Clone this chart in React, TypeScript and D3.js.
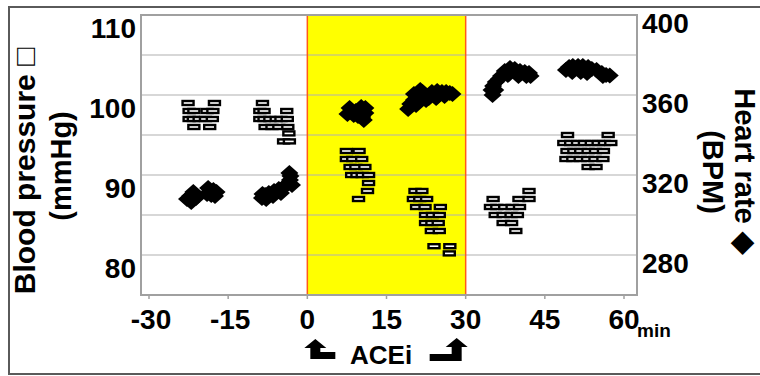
import React from "react";
import * as d3 from "d3";

// ---- data ----
const xTicks = [-30, -15, 0, 15, 30, 45, 60];
const bpTicks = [80, 90, 100, 110];
const hrTicks = [280, 320, 360, 400];
const gridValues = [80, 85, 90, 95, 100, 105];
const aceiStart = 0;
const aceiEnd = 30;

// Blood pressure (mmHg), open box markers
const bpTime = [
  -22.6, -17.6, -22.4, -21.5, -19.0, -17.9, -22.4, -21.6, -20.5, -19.3, -18.0, -21.5, -18.5,
  -8.5, -9.0, -8.2, -3.9, -9.0, -8.2, -7.1, -5.9, -5.0, -3.8, -8.0, -6.7, -5.4, -3.7, -3.5, -4.5, -3.4,
  7.4, 9.8, 7.4, 8.6, 10.3, 8.1, 9.2, 10.9, 8.4, 9.4, 10.4, 11.6, 11.6, 11.4, 9.7,
  20.4, 21.7, 20.1, 21.3, 22.6, 20.7, 22.3, 25.2, 22.4, 23.7, 25.0, 22.4, 23.6, 24.8, 23.5, 25.0, 24.0, 27.0, 26.9,
  42.0, 35.2, 40.1, 42.0, 34.7, 35.9, 37.4, 38.8, 40.2, 35.6, 37.1, 38.6, 39.8, 37.1, 38.7, 39.5,
  49.3, 57.0, 48.6, 49.9, 51.2, 52.5, 53.8, 55.1, 56.3, 57.5, 49.2, 50.5, 51.8, 53.2, 54.6, 56.1,
  49.0, 50.3, 51.7, 53.1, 54.5, 56.0, 53.2, 54.7,
];
const bpValue = [
  99, 99, 98, 98, 98, 98, 97, 97, 97, 97, 97, 96, 96,
  99, 98, 98, 98, 97, 97, 97, 97, 97, 97, 96, 96, 96, 96, 95.2, 94.2, 94.2,
  93, 93, 92, 92, 92, 91, 91, 91, 90, 90, 90, 90, 89, 88, 87,
  88, 88, 87, 87, 87, 86, 86, 86, 85, 85, 85, 84, 84, 84, 83, 83, 81.1, 81.1, 80.2,
  88, 87, 87, 87, 86, 86, 86, 86, 86, 85, 85, 85, 85, 84, 84, 83,
  95, 95, 94, 94, 94, 94, 94, 94, 94, 94, 93, 93, 93, 93, 93, 93,
  92, 92, 92, 92, 92, 92, 91, 91,
];

// Heart rate (BPM), filled diamond markers
const hrTime = [
  -22.8, -22.2, -21.5, -21.1, -22.0, -21.6, -19.0, -18.4, -17.8, -17.2, -18.2, -18.8, -17.5,
  -8.6, -8.5, -8.0, -7.3, -6.3, -5.4, -4.4, -3.8, -3.3, -3.2, -3.4, -7.8, -6.5, -5.0, -2.9,
  7.6, 8.3, 9.2, 10.2, 11.0, 11.0, 10.4, 10.7, 9.6, 8.0, 8.8, 10.0,
  19.1, 19.5, 20.2, 21.0, 21.4, 22.1, 23.0, 23.6, 24.6, 25.5, 26.3, 27.0, 27.5, 24.4, 20.6,
  20.5, 22.5, 24.5, 26.0, 21.8, 20.2,
  35.1, 34.9, 35.2, 35.7, 36.7, 37.4, 38.4, 39.3, 40.3, 41.2, 42.0, 42.3, 35.6,
  36.3, 38.0, 40.0, 41.5,
  49.0, 49.6, 50.3, 51.3, 52.2, 53.2, 53.9, 54.8, 55.8, 56.6, 57.3, 50.2, 51.8, 53.0, 56.0,
];
const hrValue = [
  308, 309.5, 310.5, 308.5, 306.5, 311.5, 310.5, 312, 312.5, 311.5, 310, 313.5, 309.5,
  308.5, 310.5, 310, 311, 312, 313, 314, 315.5, 317.5, 319.5, 321, 308, 309.5, 311, 315,
  350.5, 351.5, 352, 354, 353.5, 351, 349, 347.5, 349.5, 353.5, 350, 350.5,
  353, 355.5, 357.5, 359.5, 362.5, 360, 358.5, 361.5, 362, 361.5, 361.5, 361, 360.5, 358.5, 355,
  358, 357.5, 359, 359.5, 361.5, 360.5,
  360, 362.5, 364.5, 366.5, 369.5, 372, 373.5, 373, 372, 371.5, 371, 369.5, 362.5,
  368, 370, 369.5, 369.5,
  372.5, 374, 374.5, 374.5, 374.5, 374, 373, 372.5, 371, 370, 369.8, 371.5, 371.5, 371, 369.5,
];

// ---- layout ----
const W = 760;
const H = 376;
const plotLeft = 141;
const plotRight = 637;
const plotTop = 15;
const plotBottom = 295;
const FONT = "'Liberation Sans', Arial, Helvetica, sans-serif";

export default function App() {
  const x = d3.scaleLinear().domain([-30, 60]).range([149, 624]);
  const yL = d3.scaleLinear().domain([80, 110]).range([255, 15]);
  const yR = d3.scaleLinear().domain([280, 400]).range([255, 15]);

  const diamond = (cx: number, cy: number) => {
    const hw = 9, hh = 8;
    return `M${cx},${cy - hh}L${cx + hw},${cy}L${cx},${cy + hh}L${cx - hw},${cy}Z`;
  };

  const x0 = x(aceiStart);
  const x30 = x(aceiEnd);

  const leftArrow = (ox: number) =>
    `M${ox + 8},339 L${ox + 19},348 L${ox + 13},348 L${ox + 13},352 L${ox + 28},352 L${ox + 28},359 L${ox + 3},359 L${ox + 3},348 L${ox - 3},348 Z`;
  const rightArrow = (ox: number) =>
    `M${ox - 9},338 L${ox + 2},347 L${ox - 4},347 L${ox - 4},361 L${ox - 36},361 L${ox - 36},354 L${ox - 14},354 L${ox - 14},347 L${ox - 20},347 Z`;

  return (
    <svg
      width={W}
      height={H}
      style={{ position: "absolute", left: 0, top: 0, background: "#fff" }}
      fontFamily={FONT}
    >
      {/* outer frame */}
      <rect x={9} y={7} width={760} height={367} fill="#fff" stroke="#5a5a5a" strokeWidth={2} />

      {/* ACEi period */}
      <rect x={x0} y={plotTop} width={x30 - x0} height={plotBottom - plotTop} fill="#ffff00" />

      {/* gridlines */}
      {gridValues.map((v) => (
        <line key={v} x1={plotLeft} x2={plotRight} y1={yL(v)} y2={yL(v)} stroke="#b0b0b0" strokeWidth={1.2} />
      ))}

      {/* ACEi boundary lines */}
      <line x1={x0} x2={x0} y1={plotTop} y2={plotBottom} stroke="#ff5a1a" strokeWidth={1.5} />
      <line x1={x30} x2={x30} y1={plotTop} y2={plotBottom} stroke="#ff5a1a" strokeWidth={1.5} />

      {/* plot border */}
      <rect x={plotLeft} y={plotTop} width={plotRight - plotLeft} height={plotBottom - plotTop} fill="none" stroke="#a0a0a0" strokeWidth={2} />

      {/* x ticks */}
      {xTicks.map((t) => (
        <line key={t} x1={x(t)} x2={x(t)} y1={plotBottom} y2={plotBottom + 4} stroke="#a0a0a0" strokeWidth={1.5} />
      ))}

      {/* HR diamonds */}
      {hrTime.map((t, i) => (
        <path key={"hr" + i} d={diamond(x(t), yR(hrValue[i]))} fill="#000" />
      ))}

      {/* BP boxes */}
      {bpTime.map((t, i) => (
        <rect
          key={"bp" + i}
          x={x(t) - 5.5}
          y={yL(bpValue[i]) - 2}
          width={11}
          height={4}
          fill="#fff"
          stroke="#000"
          strokeWidth={2.4}
        />
      ))}

      {/* left tick labels */}
      {bpTicks.map((v) => (
        <text key={v} x={136} y={yL(v) + 23} textAnchor="end" fontSize={28} fontWeight="bold" fill="#000">
          {v}
        </text>
      ))}
      {/* right tick labels */}
      {hrTicks.map((v) => (
        <text key={v} x={642} y={yR(v) + 18} textAnchor="start" fontSize={28} fontWeight="bold" fill="#000">
          {v}
        </text>
      ))}
      {/* x tick labels */}
      {xTicks.map((t) => (
        <text key={t} x={x(t) + (t < 0 ? 2 : 0)} y={329} textAnchor="middle" fontSize={28} fontWeight="bold" fill="#000">
          {t}
        </text>
      ))}
      <text x={637} y={337} fontSize={19} fontWeight="bold" fill="#000">min</text>

      {/* axis titles */}
      <text transform="translate(35,171) rotate(-90)" textAnchor="middle" fontSize={30} fontWeight="bold" fill="#000">
        Blood pressure □
      </text>
      <text transform="translate(71,166) rotate(-90)" textAnchor="middle" fontSize={29} fontWeight="bold" fill="#000">
        (mmHg)
      </text>
      <text transform="translate(735,171) rotate(90)" textAnchor="middle" fontSize={29} fontWeight="bold" fill="#000">
        Heart rate ◆
      </text>
      <text transform="translate(703,172) rotate(90)" textAnchor="middle" fontSize={29} fontWeight="bold" fill="#000">
        (BPM)
      </text>

      {/* ACEi annotation */}
      <path d={leftArrow(x0)} fill="#000" />
      <path d={rightArrow(x30)} fill="#000" />
      <text x={350} y={364} fontSize={26} fontWeight="bold" fill="#000">ACEi</text>
    </svg>
  );
}
